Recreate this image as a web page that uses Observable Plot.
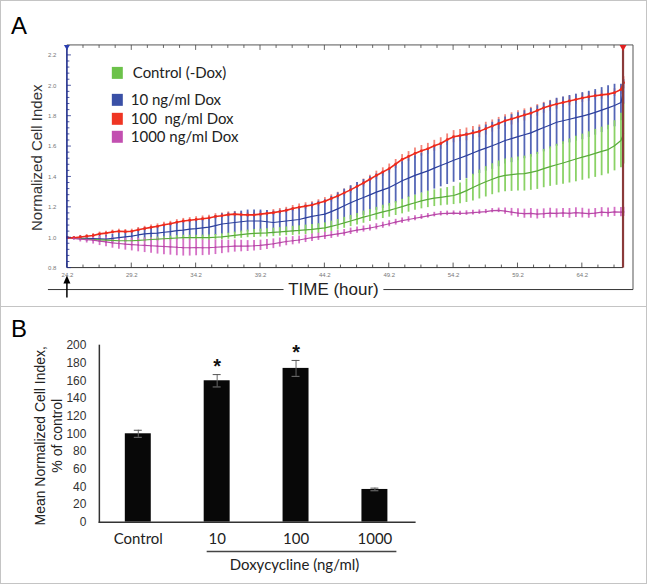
<!DOCTYPE html>
<html><head><meta charset="utf-8">
<script src="https://cdn.jsdelivr.net/npm/d3@7"></script>
<script src="https://cdn.jsdelivr.net/npm/@observablehq/plot@0.6"></script>
<style>
html,body{margin:0;padding:0;background:#fff;}
#wrap{position:relative;width:647px;height:584px;box-sizing:border-box;border:1px solid #c4c4c4;overflow:hidden;background:#fff;}
#sep{position:absolute;left:0;top:305px;width:647px;height:0;border-top:1px solid #c4c4c4;}
#a{position:absolute;left:-1px;top:-1px;}
#b{position:absolute;left:-1px;top:299px;}
</style></head><body>
<div id="wrap"><div id="a"></div><div id="sep"></div><div id="b"></div></div>
<script>
// ---------- Panel A data ----------
const times = [
  24.2, 24.7, 25.2, 25.7, 26.2, 26.7, 27.2, 27.7, 28.2, 28.7,
  29.2, 29.7, 30.2, 30.7, 31.2, 31.7, 32.2, 32.7, 33.2, 33.7,
  34.2, 34.7, 35.2, 35.7, 36.2, 36.7, 37.2, 37.7, 38.2, 38.7,
  39.2, 39.7, 40.2, 40.7, 41.2, 41.7, 42.2, 42.7, 43.2, 43.7,
  44.2, 44.7, 45.2, 45.7, 46.2, 46.7, 47.2, 47.7, 48.2, 48.7,
  49.2, 49.7, 50.2, 50.7, 51.2, 51.7, 52.2, 52.7, 53.2, 53.7,
  54.2, 54.7, 55.2, 55.7, 56.2, 56.7, 57.2, 57.7, 58.2, 58.7,
  59.2, 59.7, 60.2, 60.7, 61.2, 61.7, 62.2, 62.7, 63.2, 63.7,
  64.2, 64.7, 65.2, 65.7, 66.2, 66.7, 67.2, 67.4
];
const seriesNames = ["Control (-Dox)", "10 ng/ml Dox", "100  ng/ml Dox", "1000 ng/ml Dox"];
const controlMean = [
  1.000, 0.996, 0.993, 0.990, 0.988, 0.986, 0.984, 0.982, 0.980, 0.980,
  0.980, 0.982, 0.985, 0.988, 0.990, 0.993, 0.995, 0.998, 1.000, 1.000,
  1.000, 1.000, 1.000, 1.003, 1.006, 1.010, 1.015, 1.020, 1.025, 1.028,
  1.030, 1.032, 1.035, 1.038, 1.042, 1.045, 1.048, 1.052, 1.055, 1.060,
  1.065, 1.075, 1.085, 1.098, 1.110, 1.122, 1.135, 1.146, 1.158, 1.170,
  1.180, 1.192, 1.205, 1.218, 1.230, 1.242, 1.252, 1.260, 1.266, 1.272,
  1.278, 1.292, 1.310, 1.330, 1.350, 1.368, 1.385, 1.400, 1.410, 1.415,
  1.420, 1.422, 1.430, 1.440, 1.455, 1.468, 1.480, 1.492, 1.505, 1.518,
  1.530, 1.542, 1.555, 1.568, 1.580, 1.605, 1.640, 1.685
];
const controlErr = [
  0.005, 0.008, 0.010, 0.010, 0.010, 0.010, 0.012, 0.012, 0.012, 0.012,
  0.012, 0.012, 0.013, 0.013, 0.014, 0.014, 0.015, 0.015, 0.016, 0.016,
  0.016, 0.017, 0.018, 0.018, 0.019, 0.020, 0.022, 0.024, 0.025, 0.026,
  0.026, 0.027, 0.028, 0.028, 0.029, 0.030, 0.030, 0.031, 0.032, 0.032,
  0.033, 0.034, 0.035, 0.036, 0.037, 0.038, 0.040, 0.040, 0.042, 0.044,
  0.045, 0.046, 0.048, 0.050, 0.050, 0.052, 0.054, 0.055, 0.056, 0.058,
  0.060, 0.068, 0.078, 0.088, 0.095, 0.100, 0.102, 0.105, 0.108, 0.110,
  0.112, 0.115, 0.118, 0.122, 0.126, 0.130, 0.135, 0.140, 0.145, 0.150,
  0.152, 0.155, 0.158, 0.160, 0.160, 0.165, 0.180, 0.200
];
const dox10Mean = [
  1.000, 0.998, 0.996, 0.995, 0.994, 0.992, 0.990, 0.995, 1.000, 1.005,
  1.010, 1.018, 1.025, 1.028, 1.030, 1.036, 1.040, 1.046, 1.050, 1.056,
  1.060, 1.065, 1.070, 1.080, 1.090, 1.095, 1.100, 1.105, 1.110, 1.110,
  1.110, 1.105, 1.100, 1.105, 1.110, 1.115, 1.120, 1.130, 1.140, 1.148,
  1.155, 1.172, 1.190, 1.210, 1.230, 1.248, 1.265, 1.282, 1.300, 1.315,
  1.330, 1.352, 1.375, 1.392, 1.410, 1.425, 1.440, 1.458, 1.475, 1.492,
  1.510, 1.525, 1.540, 1.558, 1.575, 1.590, 1.605, 1.622, 1.640, 1.652,
  1.665, 1.678, 1.690, 1.708, 1.725, 1.742, 1.760, 1.770, 1.780, 1.790,
  1.800, 1.812, 1.825, 1.840, 1.855, 1.870, 1.890, 1.960
];
const dox10Err = [
  0.005, 0.010, 0.015, 0.018, 0.020, 0.024, 0.026, 0.028, 0.030, 0.032,
  0.035, 0.038, 0.040, 0.042, 0.045, 0.048, 0.050, 0.052, 0.055, 0.058,
  0.060, 0.062, 0.065, 0.066, 0.068, 0.068, 0.070, 0.070, 0.072, 0.072,
  0.072, 0.074, 0.075, 0.076, 0.078, 0.080, 0.082, 0.085, 0.088, 0.092,
  0.095, 0.100, 0.105, 0.110, 0.112, 0.115, 0.118, 0.120, 0.120, 0.122,
  0.122, 0.124, 0.125, 0.128, 0.130, 0.132, 0.135, 0.138, 0.140, 0.142,
  0.145, 0.148, 0.150, 0.150, 0.152, 0.152, 0.155, 0.155, 0.155, 0.158,
  0.158, 0.158, 0.160, 0.160, 0.160, 0.158, 0.158, 0.156, 0.156, 0.155,
  0.155, 0.152, 0.150, 0.148, 0.145, 0.140, 0.120, 0.080
];
const dox100Mean = [
  1.000, 1.000, 1.005, 1.010, 1.015, 1.025, 1.030, 1.038, 1.042, 1.040,
  1.042, 1.052, 1.060, 1.068, 1.075, 1.085, 1.092, 1.102, 1.110, 1.115,
  1.120, 1.125, 1.130, 1.140, 1.145, 1.152, 1.155, 1.152, 1.150, 1.150,
  1.155, 1.160, 1.165, 1.172, 1.180, 1.192, 1.200, 1.208, 1.215, 1.228,
  1.240, 1.258, 1.275, 1.295, 1.315, 1.338, 1.360, 1.385, 1.410, 1.432,
  1.455, 1.485, 1.515, 1.535, 1.555, 1.572, 1.585, 1.605, 1.620, 1.645,
  1.665, 1.672, 1.680, 1.690, 1.700, 1.718, 1.735, 1.752, 1.770, 1.782,
  1.795, 1.808, 1.820, 1.838, 1.855, 1.868, 1.880, 1.890, 1.900, 1.910,
  1.920, 1.928, 1.935, 1.940, 1.945, 1.955, 1.975, 2.020
];
const dox100Err = [
  0.005, 0.008, 0.010, 0.010, 0.012, 0.012, 0.012, 0.012, 0.014, 0.014,
  0.014, 0.015, 0.015, 0.015, 0.016, 0.016, 0.016, 0.017, 0.017, 0.017,
  0.018, 0.018, 0.018, 0.018, 0.018, 0.018, 0.018, 0.018, 0.018, 0.018,
  0.018, 0.018, 0.020, 0.020, 0.020, 0.020, 0.022, 0.022, 0.022, 0.022,
  0.024, 0.024, 0.024, 0.025, 0.025, 0.025, 0.026, 0.026, 0.028, 0.028,
  0.030, 0.030, 0.032, 0.032, 0.035, 0.035, 0.036, 0.036, 0.038, 0.038,
  0.040, 0.040, 0.042, 0.042, 0.042, 0.042, 0.040, 0.040, 0.040, 0.040,
  0.040, 0.040, 0.038, 0.038, 0.036, 0.036, 0.034, 0.034, 0.032, 0.032,
  0.030, 0.030, 0.028, 0.028, 0.026, 0.026, 0.030, 0.040
];
const dox1000Mean = [
  1.000, 0.995, 0.990, 0.987, 0.984, 0.978, 0.972, 0.966, 0.962, 0.958,
  0.955, 0.952, 0.950, 0.947, 0.944, 0.942, 0.940, 0.937, 0.935, 0.934,
  0.935, 0.934, 0.935, 0.937, 0.940, 0.942, 0.945, 0.945, 0.945, 0.947,
  0.950, 0.955, 0.960, 0.968, 0.975, 0.980, 0.985, 0.993, 1.000, 1.006,
  1.012, 1.018, 1.025, 1.032, 1.042, 1.050, 1.057, 1.064, 1.072, 1.082,
  1.092, 1.102, 1.112, 1.120, 1.128, 1.136, 1.144, 1.152, 1.158, 1.160,
  1.162, 1.160, 1.162, 1.165, 1.168, 1.172, 1.178, 1.180, 1.175, 1.168,
  1.162, 1.158, 1.160, 1.155, 1.158, 1.162, 1.160, 1.163, 1.160, 1.165,
  1.162, 1.158, 1.162, 1.168, 1.165, 1.170, 1.168, 1.170
];
const dox1000Err = [
  0.005, 0.012, 0.018, 0.022, 0.026, 0.030, 0.032, 0.035, 0.038, 0.040,
  0.042, 0.045, 0.048, 0.050, 0.052, 0.054, 0.055, 0.056, 0.056, 0.055,
  0.054, 0.052, 0.050, 0.048, 0.045, 0.042, 0.040, 0.038, 0.036, 0.035,
  0.034, 0.033, 0.032, 0.030, 0.028, 0.027, 0.026, 0.025, 0.025, 0.024,
  0.024, 0.023, 0.022, 0.022, 0.021, 0.020, 0.020, 0.020, 0.020, 0.020,
  0.020, 0.019, 0.018, 0.018, 0.017, 0.016, 0.015, 0.015, 0.015, 0.015,
  0.014, 0.014, 0.015, 0.015, 0.015, 0.014, 0.014, 0.015, 0.020, 0.025,
  0.028, 0.030, 0.032, 0.032, 0.032, 0.032, 0.030, 0.030, 0.032, 0.032,
  0.032, 0.030, 0.030, 0.030, 0.030, 0.030, 0.030, 0.030
];
const xTickLabelsA = [24.2, 29.2, 34.2, 39.2, 44.2, 49.2, 54.2, 59.2, 64.2];
const yTickLabelsA = [0.8, 1.0, 1.2, 1.4, 1.6, 1.8, 2.0, 2.2];

// ---------- Panel B data ----------
const categoriesB = ["Control", "10", "100", "1000"];
const meansB = [100, 160, 174, 37];
const errorsB = [4, 7, 9, 1.5];
const significantB = [false, true, true, false];
const yTickLabelsB = [0, 20, 40, 60, 80, 100, 120, 140, 160, 180, 200];

// ---------- Styles ----------
const lineColors = ["#58aa3a", "#2c3f9c", "#ee2a1c", "#b84aa8"];
const barColors  = ["#8ad266", "#5466b6", "#f2857a", "#d570c6"];
const keyColors  = ["#6cc24a", "#3a50a6", "#ef3523", "#c24fb0"];

const meansA = [controlMean, dox10Mean, dox100Mean, dox1000Mean];
const errsA  = [controlErr, dox10Err, dox100Err, dox1000Err];
const rowsA = [];
seriesNames.forEach((s, i) => times.forEach((t, j) => rowsA.push({s, i, t, m: meansA[i][j], e: errsA[i][j]})));
const bySeries = i => rowsA.filter(d => d.i === i);

const barOrder = [2, 1, 0, 3];
const lineOrder = [1, 0, 3, 2];

const SANS = "'Liberation Sans', Arial, sans-serif";

const chartA = Plot.plot({
  width: 647, height: 300,
  marginLeft: 67, marginRight: 13, marginTop: 45, marginBottom: 32,
  insetTop: 10, insetRight: 10,
  x: {domain: [24.2, 67.4]},
  y: {domain: [0.8, 2.2]},
  style: {fontFamily: SANS, background: "transparent", overflow: "visible"},
  marks: [
    ...barOrder.map(i => Plot.ruleX(bySeries(i), {x: "t", y1: d => d.m - d.e, y2: d => d.m + d.e, stroke: barColors[i], strokeWidth: 1.8})),
    ...lineOrder.map(i => Plot.line(bySeries(i), {x: "t", y: "m", stroke: lineColors[i], strokeWidth: i === 2 ? 1.6 : 1.2})),
    Plot.dot(bySeries(2), {x: "t", y: "m", r: 1.4, fill: lineColors[2]}),
    Plot.dot(bySeries(3), {x: "t", y: "m", r: 0.9, fill: lineColors[3]}),
    Plot.axisX({ticks: xTickLabelsA, tickFormat: d => d.toFixed(1), tickSize: 0, tickPadding: 5, fontSize: 6, fill: "#777", label: null}),
    Plot.axisY({ticks: yTickLabelsA, tickFormat: d => d.toFixed(1), tickSize: 0, tickPadding: 11, fontSize: 6, fill: "#777", label: null})
  ]
});
document.getElementById("a").appendChild(chartA);

{
  const svg = d3.select(chartA);
  const x = v => chartA.scale("x").apply(v);
  const y = v => chartA.scale("y").apply(v);
  const g = svg.append("g");
  const ln = (x1, y1, x2, y2, stroke, w) => g.append("line").attr("x1", x1).attr("y1", y1).attr("x2", x2).attr("y2", y2).attr("stroke", stroke).attr("stroke-width", w);
  const left = x(24.2), right = x(67.4), top = 45, bottom = y(0.8), frameR = 634;
  // frame
  ln(left, top, frameR, top, "#555", 1);
  ln(frameR, top, frameR, 290, "#555", 1);
  ln(left, bottom, right, bottom, "#333", 1);
  // minor/major ticks on x
  d3.range(24.2, 67.3, 1.25).forEach((t, k) => {
    const L = k % 4 === 0 ? 5 : 3;
    ln(x(t), bottom, x(t), bottom - L, "#333", 0.8);
    ln(x(t), top, x(t), top + L, "#444", 0.8);
  });
  d3.range(0.8, 2.2001, 0.04).forEach((v, k) => {
    const L = k % 5 === 0 ? 4 : 2.5;
    ln(left, y(v), left + L, y(v), "#1f2d8c", 0.8);
  });
  // y axis line (blue) and end marker (dark red)
  ln(left, top, left, bottom, "#1f2d8c", 1.6);
  ln(right, top, right, bottom, "#8b3a3a", 2.2);
  g.append("path").attr("d", `M${left-3},${top} L${left+3},${top} L${left},${top+5} Z`).attr("fill", "#2b3fb0");
  g.append("path").attr("d", `M${right-3.5},${top} L${right+3.5},${top} L${right},${top+6} Z`).attr("fill", "#e02020");
  // legend
  const keyY = [73, 100, 119, 137];
  const keyX = [133, 131, 131, 131];
  seriesNames.forEach((s, i) => {
    g.append("rect").attr("x", 112).attr("y", keyY[i] - 6).attr("width", 11).attr("height", 12).attr("fill", keyColors[i]);
    g.append("text").attr("x", keyX[i]).attr("y", keyY[i]).attr("dy", "0.35em").attr("text-anchor", "start")
      .attr("font-family", "Lato, sans-serif").attr("font-size", 15).attr("fill", "#222")
      .style("white-space", "pre").text(s);
  });
  // panel letter, axis title, time axis
  g.append("text").attr("x", 11).attr("y", 34).attr("text-anchor", "start").attr("font-family", SANS).attr("font-size", 24).attr("fill", "#000").text("A");
  g.append("text").attr("transform", "translate(37,158) rotate(-90)").attr("text-anchor", "middle").attr("dy", "0.35em")
    .attr("font-family", SANS).attr("font-size", 15).attr("fill", "#333").text("Normalized Cell Index");
  ln(48, 290, 284, 290, "#333", 1);
  ln(384, 290, frameR, 290, "#333", 1);
  g.append("text").attr("x", 334).attr("y", 290).attr("text-anchor", "middle").attr("dy", "0.35em")
    .attr("font-family", SANS).attr("font-size", 17).attr("fill", "#222").text("TIME (hour)");
  ln(left, 298, left, 282, "#000", 1.5);
  g.append("path").attr("d", `M${left},${276} L${left-3.5},${284} L${left+3.5},${284} Z`).attr("fill", "#000");
}

// ---------- Panel B ----------
const rowsB = categoriesB.map((c, i) => ({c, v: meansB[i], e: errorsB[i], sig: significantB[i]}));
const chartB = Plot.plot({
  width: 647, height: 284,
  marginLeft: 99, marginRight: 232, marginTop: 45, marginBottom: 62,
  x: {domain: categoriesB, paddingInner: 0.67, paddingOuter: 0.335},
  y: {domain: [0, 200]},
  style: {fontFamily: SANS, background: "transparent", overflow: "visible"},
  marks: [
    Plot.barY(rowsB, {x: "c", y: "v", fill: "#080808"}),
    Plot.ruleX(rowsB, {x: "c", y1: d => d.v - d.e, y2: d => d.v + d.e, stroke: "#666", strokeWidth: 1}),
    Plot.tickY(rowsB, {x: "c", y: d => d.v + d.e, stroke: "#555", strokeWidth: 1, insetLeft: 9, insetRight: 9}),
    Plot.tickY(rowsB, {x: "c", y: d => d.v - d.e, stroke: "#777", strokeWidth: 1, insetLeft: 9, insetRight: 9}),
    Plot.text(rowsB.filter(d => d.sig), {x: "c", y: d => d.v + d.e, text: () => "*", dy: -8, fontSize: 20, fontWeight: "bold", fill: "#111"}),
    Plot.frame({anchor: "left", stroke: "#333", strokeWidth: 1.5}),
    Plot.frame({anchor: "bottom", stroke: "#333", strokeWidth: 1.5}),
    Plot.axisY({ticks: yTickLabelsB, tickSize: 0, tickPadding: 13, fontSize: 12, fill: "#333", label: null}),
    Plot.axisX({tickSize: 0, tickPadding: 11, fontSize: 15, fontFamily: "Lato, sans-serif", fill: "#222", label: null})
  ]
});
document.getElementById("b").appendChild(chartB);
{
  const svg = d3.select(chartB);
  const g = svg.append("g");
  g.append("text").attr("x", 11).attr("y", 37).attr("text-anchor", "start").attr("font-family", SANS).attr("font-size", 24).attr("fill", "#000").text("B");
  g.append("text").attr("transform", "translate(40,136) rotate(-90)").attr("text-anchor", "middle").attr("dy", "0.35em")
    .attr("font-family", SANS).attr("font-size", 14).attr("fill", "#222").text("Mean Normalized Cell Index,");
  g.append("text").attr("transform", "translate(57,136) rotate(-90)").attr("text-anchor", "middle").attr("dy", "0.35em")
    .attr("font-family", SANS).attr("font-size", 14).attr("fill", "#222").text("% of control");
  g.append("line").attr("x1", 207).attr("x2", 397).attr("y1", 252).attr("y2", 252).attr("stroke", "#444").attr("stroke-width", 1.5);
  g.append("text").attr("x", 295).attr("y", 265).attr("text-anchor", "middle").attr("dy", "0.35em")
    .attr("font-family", "Lato, sans-serif").attr("font-size", 15).attr("fill", "#222").text("Doxycycline (ng/ml)");
}
</script>
</body></html>
